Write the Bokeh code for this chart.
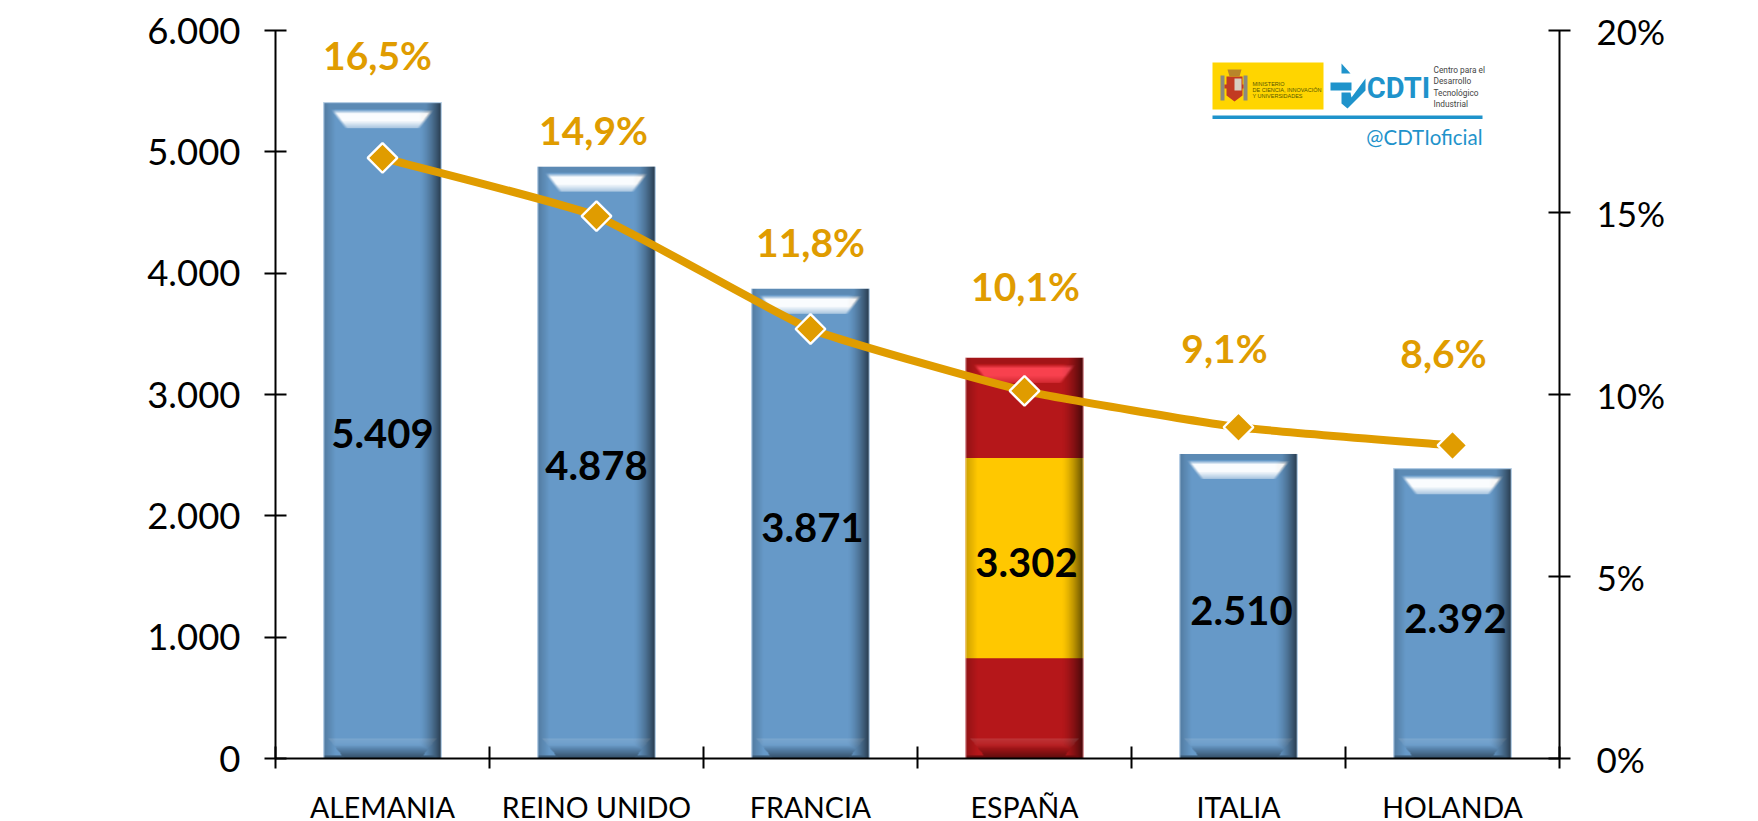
import numpy as np
from bokeh.embed import file_html
from bokeh.resources import INLINE
from bokeh.plotting import figure
from bokeh.models import Range1d, LinearAxis, FixedTicker, Label
from bokeh.core.properties import value

# ---------- data ----------
categories = ["ALEMANIA", "REINO UNIDO", "FRANCIA", "ESPAÑA", "ITALIA", "HOLANDA"]
spending = [5409, 4878, 3871, 3302, 2510, 2392]
spending_labels = ["5.409", "4.878", "3.871", "3.302", "2.510", "2.392"]
share = [16.5, 14.9, 11.8, 10.1, 9.1, 8.6]
share_labels = ["16,5%", "14,9%", "11,8%", "10,1%", "9,1%", "8,6%"]
left_ticks = [0, 1000, 2000, 3000, 4000, 5000, 6000]
left_tick_labels = ["0", "1.000", "2.000", "3.000", "4.000", "5.000", "6.000"]
right_ticks = [0, 5, 10, 15, 20]
right_tick_labels = ["0%", "5%", "10%", "15%", "20%"]

# ---------- layout ----------
FONT = "Lato"
ORANGE = "#E09C00"
BLUE = "#6699C8"
RED = "#B5171A"
YELLOW = "#FFC800"
LOGO = "#1F93CB"
FRAME_L, FRAME_T, FRAME_W, FRAME_H = 275, 30, 1284, 728
W, H = 1758, 821
BAR_FRAC = 0.553
pct_dx = [-5, -3, 0, 1, -14, -9]
pct_dy = [103, 86, 87, 105, 79, 92]
val_dx = [0, 0, 2, 2, 3, 3]
val_dy = [3, 3, 4, 4, 4, 5]

def X(px):
    return (px - FRAME_L) / FRAME_W * 6
def Y(py):
    return (FRAME_T + FRAME_H - py) / FRAME_H * 6000

p = figure(width=W, height=H, output_backend="svg", toolbar_location=None,
           x_range=Range1d(0, 6), y_range=Range1d(0, 6000),
           min_border_left=FRAME_L, min_border_top=FRAME_T,
           min_border_right=W - FRAME_L - FRAME_W, min_border_bottom=H - FRAME_T - FRAME_H,
           outline_line_color=None, background_fill_color="white", border_fill_color="white")
p.frame_width = FRAME_W
p.frame_height = FRAME_H
p.xgrid.visible = False
p.ygrid.visible = False
p.extra_y_ranges = {"pct": Range1d(0, 20)}

def style_axis(ax):
    ax.axis_line_color = "black"
    ax.axis_line_width = 2
    ax.major_tick_line_color = "black"
    ax.major_tick_line_width = 2
    ax.major_tick_in = 11
    ax.major_tick_out = 11
    ax.minor_tick_line_color = None
    ax.major_label_text_font = FONT
    ax.major_label_text_color = "black"

ya = p.yaxis[0]
ya.ticker = FixedTicker(ticks=left_ticks)
ya.major_label_overrides = {t: s for t, s in zip(left_ticks, left_tick_labels)}
style_axis(ya)
ya.major_label_text_font_size = "36.5px"
ya.major_label_standoff = 24

yr = LinearAxis(y_range_name="pct", ticker=FixedTicker(ticks=right_ticks))
yr.major_label_overrides = {t: s for t, s in zip(right_ticks, right_tick_labels)}
style_axis(yr)
yr.major_label_text_font_size = "35px"
yr.major_label_standoff = 26
p.add_layout(yr, "right")

xc = [i + 0.5 for i in range(len(categories))]
xa = p.xaxis[0]
xa.ticker = FixedTicker(ticks=xc, minor_ticks=list(range(7)))
xa.major_label_overrides = {t: s for t, s in zip(xc, categories)}
style_axis(xa)
xa.major_tick_line_color = None
xa.major_tick_in = 0
xa.major_tick_out = 0
xa.minor_tick_line_color = "black"
xa.minor_tick_line_width = 2
xa.minor_tick_in = 12
xa.minor_tick_out = 10
xa.major_label_text_font_size = "28.5px"
xa.major_label_standoff = 21

# bars
colors = [RED if c == "ESPAÑA" else BLUE for c in categories]
p.vbar(x=xc, top=spending, bottom=0, width=BAR_FRAC, fill_color=colors, line_color=None)
sp = categories.index("ESPAÑA")
p.vbar(x=[xc[sp]], bottom=[spending[sp] * 0.25], top=[spending[sp] * 0.75], width=BAR_FRAC,
       fill_color=YELLOW, line_color=None)

def smooth(t, a, b):
    return np.clip((t - a) / (b - a), 0, 1)

def bevel(w, h, hi_rgb, hi_a):
    """RGBA overlay (bottom row first) that gives a bar its bevelled look."""
    db, xx = np.mgrid[0:h, 0:w].astype(float)
    yy = h - 1 - db                   # distance to the bar's top
    dr = w - 1 - xx                   # distance to the right edge
    dark = np.zeros((h, w))
    lite = np.zeros((h, w))
    white = np.zeros((h, w))
    # side shading
    dark = np.maximum(dark, 0.62 * (1 - smooth(dr, 0, 22)) ** 1.5)
    dark = np.maximum(dark, 0.20 * (1 - smooth(xx, 0, 12)))
    # top band with highlight trapezoid
    inset = 8 + (yy - 9) * 0.75
    trap = (yy >= 7) & (yy < 26) & (xx > inset) & (dr > inset)
    edge = smooth(np.minimum(xx - inset, dr - inset), 0, 4)
    core = smooth(yy, 7, 11) * (1 - 0.6 * smooth(yy, 18, 26)) * edge
    lite[trap] = (hi_a * core)[trap]
    dark = np.where(yy < 7, np.maximum(dark, 0.10), dark)
    # bottom bevel: lighter at its top edge, dark at the foot
    inset_b = (20 - db) * 0.8 + 4
    trap_b = (db < 20) & (xx > inset_b) & (dr > inset_b)
    white[trap_b] = (0.14 * smooth(db, 9, 20))[trap_b]
    foot = 0.48 * (1 - smooth(db, 0, 13))
    dark = np.where(trap_b, np.maximum(dark, foot), dark)
    dark = np.where(db < 3, np.maximum(dark, 0.40), dark)
    # combine into straight-alpha RGBA
    a = np.clip(dark + white + lite, 0, 1)
    den = np.maximum(a, 1e-6)
    r = (lite * hi_rgb[0] + white * 255) / den
    g = (lite * hi_rgb[1] + white * 255) / den
    b = (lite * hi_rgb[2] + white * 255) / den
    # soft outer rim
    rim = (xx < 1) | (dr < 1) | (yy < 1)
    r[rim], g[rim], b[rim], a[rim] = 235, 240, 245, 0.55
    out = (r.astype(np.uint32) | (g.astype(np.uint32) << 8) | (b.astype(np.uint32) << 16)
           | ((a * 255).astype(np.uint32) << 24))
    return out.astype(np.uint32)

bar_w_px = int(round(BAR_FRAC * FRAME_W / 6))
for i, val in enumerate(spending):
    h_px = int(round(val / 6000 * FRAME_H))
    img = bevel(bar_w_px, h_px, (255, 70, 85) if i == sp else (255, 255, 255), 0.9 if i == sp else 0.97)
    p.image_rgba(image=[img], x=xc[i] - BAR_FRAC / 2, y=0, dw=BAR_FRAC, dh=val)

# share line, lightly rounded through the series points
k = 0.07
n = len(share)
pts = list(zip(xc, share))
cx0, cy0, cx1, cy1 = [], [], [], []
for i in range(n - 1):
    p0 = pts[max(i - 1, 0)]; p1 = pts[i]; p2 = pts[i + 1]; p3 = pts[min(i + 2, n - 1)]
    cx0.append(p1[0] + (p2[0] - p0[0]) * k); cy0.append(p1[1] + (p2[1] - p0[1]) * k)
    cx1.append(p2[0] - (p3[0] - p1[0]) * k); cy1.append(p2[1] - (p3[1] - p1[1]) * k)
p.bezier(x0=xc[:-1], y0=share[:-1], x1=xc[1:], y1=share[1:], cx0=cx0, cy0=cy0, cx1=cx1, cy1=cy1,
         y_range_name="pct", line_color=ORANGE, line_width=8)
p.scatter(xc, share, y_range_name="pct", marker="square", angle=np.pi / 4, size=21,
          fill_color=ORANGE, line_color="white", line_width=2.4)

# value labels
p.text(x=xc, y=[v / 2 for v in spending], text=spending_labels, x_offset=val_dx, y_offset=val_dy,
       text_align="center", text_baseline="middle", text_font=value(FONT),
       text_font_style="bold", text_font_size="40px", text_color="black")
# share labels
p.text(x=xc, y=share, y_range_name="pct", text=share_labels, x_offset=pct_dx,
       y_offset=[-d for d in pct_dy], text_align="center", text_baseline="middle",
       text_font=value(FONT), text_font_style="bold", text_font_size="39px", text_color=ORANGE)

def label(px, py, s, size, color="black", bold=False, align="center", font=FONT):
    p.add_layout(Label(x=X(px), y=Y(py), text=s, text_align=align, text_baseline="middle",
                       text_font=font, text_font_style="bold" if bold else "normal",
                       text_font_size=f"{size}px", text_color=color))

label(46, 132, "M€", 40, bold=True)
label(1660, 125, "% UE-28", 40, color=ORANGE, bold=True)

# ---------- logo ----------
def poly(points, color):
    p.patch([X(a) for a, _ in points], [Y(b) for _, b in points], fill_color=color, line_color=None)

poly([(1212, 62), (1323, 62), (1323, 109), (1212, 109)], "#FFD500")
# coat of arms
poly([(1220, 75), (1224, 75), (1224, 100), (1220, 100)], "#8A8A80")
poly([(1243, 75), (1247, 75), (1247, 100), (1243, 100)], "#8A8A80")
poly([(1224, 84), (1243, 84), (1243, 88), (1224, 88)], "#C23B22")
poly([(1226, 76), (1242, 76), (1242, 95), (1234, 101), (1226, 95)], "#C23B22")
poly([(1234, 78), (1241, 78), (1241, 90), (1234, 90)], "#D8CFC0")
poly([(1227, 69), (1241, 69), (1239, 76), (1229, 76)], "#B8862A")
label(1252, 83, "MINISTERIO", 5.5, align="left", font="Liberation Sans", color="#555500")
label(1252, 89, "DE CIENCIA, INNOVACIÓN", 5.5, align="left", font="Liberation Sans", color="#555500")
label(1252, 95, "Y UNIVERSIDADES", 5.5, align="left", font="Liberation Sans", color="#555500")
# arrow-check mark
poly([(1341, 63), (1350, 73), (1341, 73)], LOGO)
poly([(1330, 82), (1351, 82), (1351, 90), (1330, 90)], LOGO)
poly([(1341, 92), (1350, 92), (1351, 97), (1365, 78), (1365, 90), (1347, 108), (1341, 103)], LOGO)
label(1398, 87, "CDTI", 29, color=LOGO, bold=True, font="Roboto")
for py, s in zip([69, 80, 92, 103], ["Centro para el", "Desarrollo", "Tecnológico", "Industrial"]):
    label(1433, py, s, 8.3, align="left", font="Roboto", color="#444444")
poly([(1212, 115), (1482, 115), (1482, 118.5), (1212, 118.5)], LOGO)
label(1482, 136, "@CDTIoficial", 20.5, color=LOGO, align="right")

open("out.html", "w").write(file_html(p, INLINE))
